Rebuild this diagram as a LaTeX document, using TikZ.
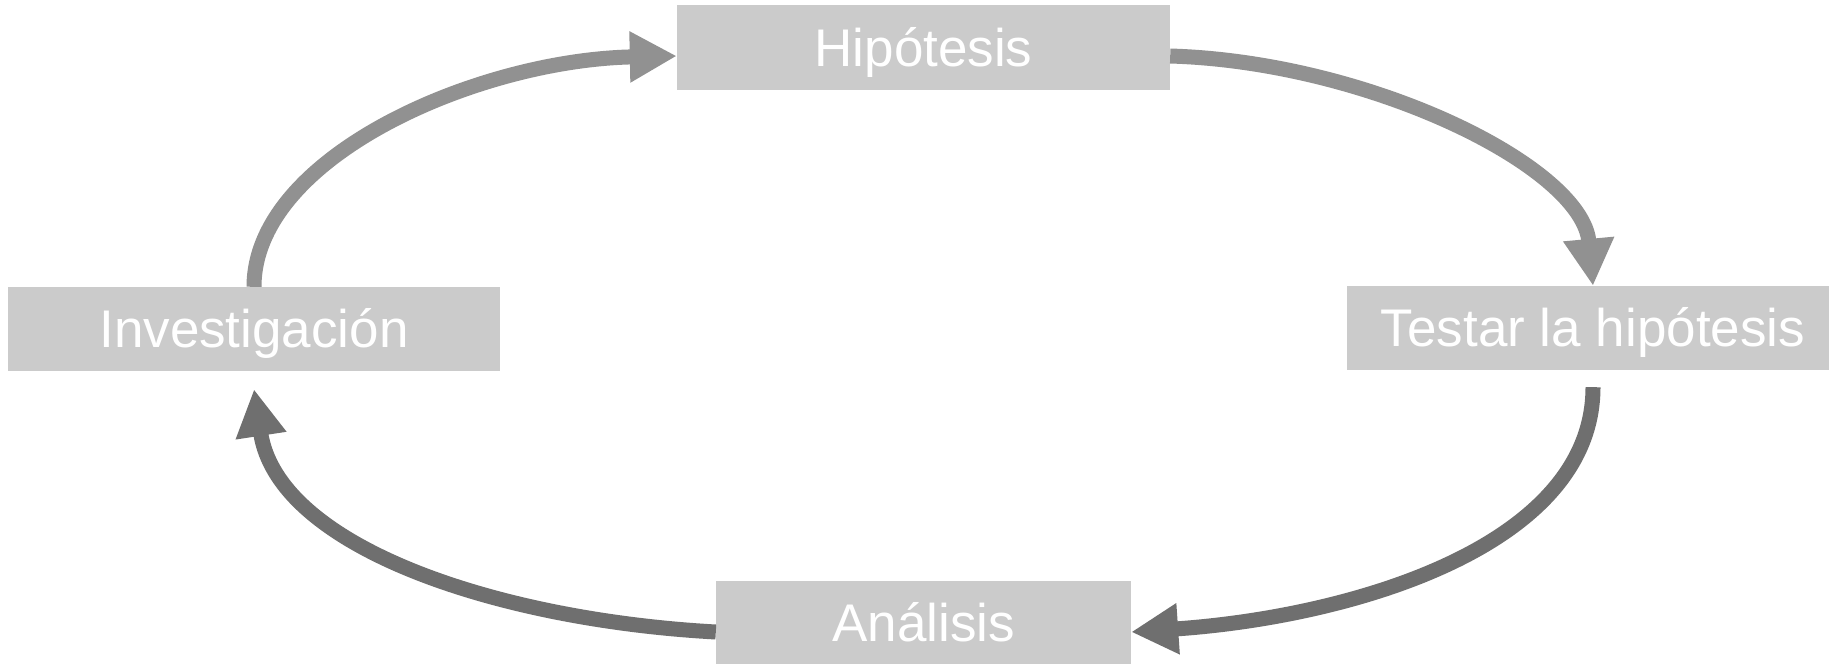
\documentclass[tikz,border=0pt]{standalone}
\usepackage{fontspec}
\setmainfont{Liberation Sans}
\usetikzlibrary{arrows.meta,calc}
\definecolor{boxgray}{HTML}{CBCBCB}
\definecolor{toparrow}{HTML}{919191}
\definecolor{botarrow}{HTML}{6F6F6F}
\tikzset{
  stepbox/.style={fill=boxgray, draw=none, inner sep=0pt, minimum height=84pt,
    text=white, font=\fontsize{53}{60}\selectfont, text height=37pt, text depth=0pt},
  cyc/.style={line width=15pt, -{Triangle[length=47pt,width=48pt]}},
  topc/.style={cyc, draw=toparrow},
  botc/.style={cyc, draw=botarrow},
}
\begin{document}
\begin{tikzpicture}[x=1pt,y=-1pt]
\clip (0,0) rectangle (1829,664);
\fill[white] (0,0) rectangle (1829,664);
\node[stepbox, minimum width=493pt, minimum height=85pt] (hyp) at (923.5,47.5) {Hipótesis};
\node[stepbox, minimum width=492pt] (inv) at (254,329) {Investigación};
\node[stepbox, minimum width=492pt] (test) at (1593,328) {Testar la hipótesis};
\node[stepbox, minimum width=415pt] (ana) at (923.5,623) {Análisis};
% arrows
\draw[topc] (inv.north) .. controls (254,157) and (477,60) .. ($(hyp.west)+(0,8.5)$);
\draw[topc] ($(hyp.east)+(0,8.5)$) .. controls (1370,62) and (1582,167) .. (test.north);
\draw[botc] ($(test.south)+(0,17)$) .. controls (1593,547) and (1350,617) .. ($(ana.east)+(0,9)$);
\draw[botc] ($(ana.west)+(0,9)$) .. controls (497,620) and (278,547) .. ($(inv.south)+(0,18)$);
\end{tikzpicture}
\end{document}
